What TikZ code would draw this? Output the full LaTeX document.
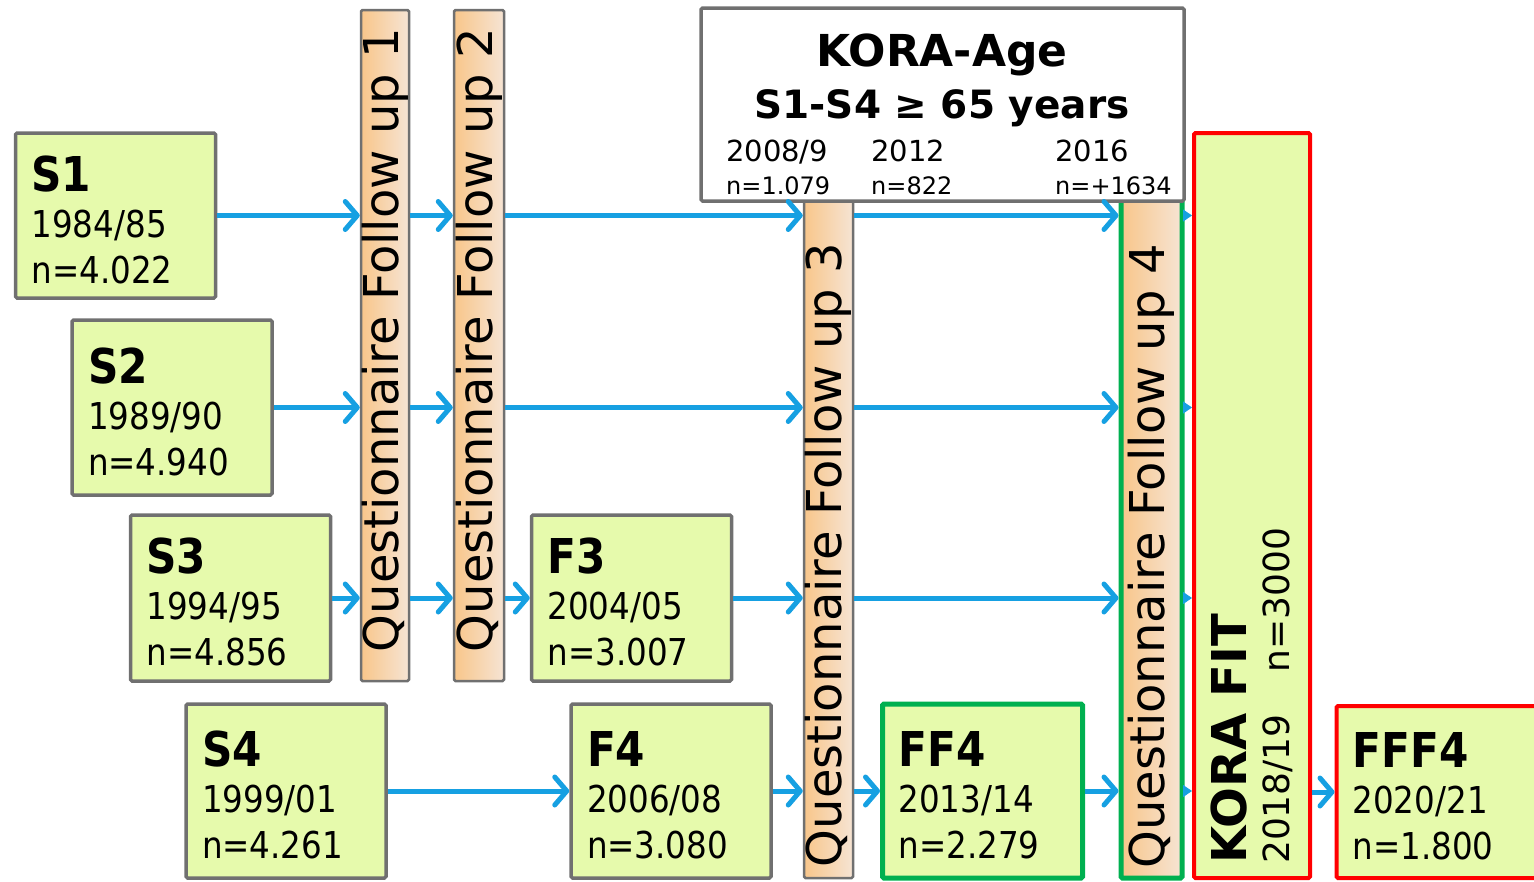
\documentclass[tikz,border=0pt]{standalone}
\usepackage{fontspec}
\setmainfont{DejaVu Sans}
\newfontfamily\boxfont{DejaVu Sans}[FakeStretch=0.88]
\usepackage{tikz}
\usetikzlibrary{
	arrows.meta,
	positioning,
	calc
}
\usepackage{xcolor}

\definecolor{cohortfill}{RGB}{230,250,172}
\definecolor{framegray}{RGB}{112,112,112}
\definecolor{flowblue}{RGB}{22,160,226}
\definecolor{fitred}{RGB}{255,0,0}
\definecolor{ffgreen}{RGB}{0,176,80}
\definecolor{barleft}{RGB}{248,198,138}
\definecolor{barright}{RGB}{246,228,212}

\newcommand{\cohorttitle}[1]{{\bfseries\fontsize{48}{46}\selectfont\rule{0pt}{44pt}#1}}

\tikzset{
	cohort/.style={draw=framegray,line width=3.5pt,fill=cohortfill,rounded corners=1.5pt,
		text width=168pt,inner xsep=16pt,inner ysep=0pt,minimum height=170pt,align=left,
		font=\boxfont\fontsize{37}{46}\selectfont},
	qbar/.style={draw=framegray,line width=2.5pt,left color=barleft,right color=barright,
		rounded corners=1.5pt,inner sep=0pt},
	qtext/.style={rotate=90,anchor=west,inner sep=0pt,font=\fontsize{48}{50}\selectfont},
	flow/.style={->,flowblue,line width=5pt},
	tinyflow/.style={-{Triangle[length=9pt,width=12pt]},flowblue,line width=1pt}
}

\begin{document}
\begin{tikzpicture}[x=1pt,y=-1pt,>={Straight Barb[length=12pt,width=28pt,round]}]
	
	\useasboundingbox (0,0) rectangle (1534,881);
	
	% questionnaire bars
	\node[qbar,minimum width=48pt,minimum height=671pt] (q1) at (385,345.5) {};
	\node[qbar,minimum width=50pt,minimum height=671pt] (q2) at (479,345.5) {};
	\node[qbar,minimum width=49pt,minimum height=679pt] (q3) at (828.5,538.5) {};
	\node[qbar,draw=ffgreen,line width=5pt,minimum width=61pt,minimum height=679pt] (q4) at (1151.5,538.5) {};
	
	\node[qtext] (q1text) at ([yshift=30pt]q1.south) {Questionnaire Follow up 1};
	\node[qtext] (q2text) at ([yshift=30pt]q2.south) {Questionnaire Follow up 2};
	\node[qtext] (q3text) at ([yshift=12pt]q3.south) {Questionnaire Follow up 3};
	\node[qtext] (q4text) at ([yshift=12pt]q4.south) {Questionnaire Follow up 4};
	
	% KORA-Age
	\node[draw=framegray,line width=3.5pt,fill=white,minimum width=483pt,minimum height=193pt,
		rounded corners=1.5pt] (age) at (942.5,104.5) {};
	\node[anchor=base,inner sep=0pt,font=\bfseries\fontsize{44}{50}\selectfont] (agetitle) at (942,66) {KORA-Age};
	\node[anchor=base,inner sep=0pt,font=\bfseries\fontsize{39}{45}\selectfont] (agesub) at (942,118) {S1-S4 ≥ 65 years};
	
	\node[anchor=base west,inner sep=0pt,font=\fontsize{29}{33}\selectfont] (y1) at (726,161) {2008/9};
	\node[anchor=base west,inner sep=0pt,font=\fontsize{29}{33}\selectfont] (y2) at (871,161) {2012};
	\node[anchor=base west,inner sep=0pt,font=\fontsize{29}{33}\selectfont] (y3) at (1055,161) {2016};
	\node[anchor=base west,inner sep=0pt,font=\fontsize{24}{28}\selectfont] (n1) at (726,194) {n=1.079};
	\node[anchor=base west,inner sep=0pt,font=\fontsize{24}{28}\selectfont] (n2) at (871,194) {n=822};
	\node[anchor=base west,inner sep=0pt,font=\fontsize{24}{28}\selectfont] (n3) at (1055,194) {n=+1634};
	
	% cohorts
	\node[cohort,minimum height=165pt] (s1) at (115.5,215.5) {\cohorttitle{S1}\\1984/85\\n=4.022};
	\node[cohort,minimum height=175pt] (s2) at (172,407.5) {\cohorttitle{S2}\\1989/90\\n=4.940};
	\node[cohort,minimum height=166pt] (s3) at (230.5,598) {\cohorttitle{S3}\\1994/95\\n=4.856};
	\node[cohort,minimum height=174pt] (s4) at (286,791) {\cohorttitle{S4}\\1999/01\\n=4.261};
	\node[cohort,minimum height=166pt] (f3) at (631.5,598) {\cohorttitle{F3}\\2004/05\\n=3.007};
	\node[cohort,minimum height=174pt] (f4) at (671,791) {\cohorttitle{F4}\\2006/08\\n=3.080};
	\node[cohort,draw=ffgreen,line width=5pt,minimum height=174pt] (ff4) at (982.5,791)
	{\cohorttitle{FF4}\\2013/14\\n=2.279};
	\node[cohort,draw=fitred,line width=4pt,minimum height=172pt] (fff4) at (1436.5,792)
	{\cohorttitle{FFF4}\\2020/21\\n=1.800};
	
	% KORA FIT
	\node[draw=fitred,line width=4pt,fill=cohortfill,minimum width=116pt,minimum height=745pt,
		rounded corners=1.5pt] (fit) at (1252,505.5) {};
	\node[rotate=90,anchor=west,align=left,inner sep=0pt,font=\fontsize{36}{43}\selectfont] (fittext)
	at ([yshift=16pt]fit.south) {{\bfseries\fontsize{48}{43}\selectfont KORA FIT}\\2018/19\hspace{42pt}n=3000};
	
	% S1
	\draw[flow] (s1.east) -- (s1.east -| q1.west);
	\draw[flow] (s1.east -| q1.east) -- (s1.east -| q2.west);
	\draw[flow] (s1.east -| q2.east) -- (s1.east -| q3.west);
	\draw[flow] (s1.east -| q3.east) -- (s1.east -| q4.west);
	\draw[tinyflow] (s1.east -| q4.east) -- (s1.east -| fit.west);
	
	% S2
	\draw[flow] (s2.east) -- (s2.east -| q1.west);
	\draw[flow] (s2.east -| q1.east) -- (s2.east -| q2.west);
	\draw[flow] (s2.east -| q2.east) -- (s2.east -| q3.west);
	\draw[flow] (s2.east -| q3.east) -- (s2.east -| q4.west);
	\draw[tinyflow] (s2.east -| q4.east) -- (s2.east -| fit.west);
	
	% S3
	\draw[flow] (s3.east) -- (s3.east -| q1.west);
	\draw[flow] (s3.east -| q1.east) -- (s3.east -| q2.west);
	\draw[flow] (s3.east -| q2.east) -- (f3.west);
	\draw[flow] (f3.east) -- (f3.east -| q3.west);
	\draw[flow] (f3.east -| q3.east) -- (f3.east -| q4.west);
	\draw[tinyflow] (f3.east -| q4.east) -- (f3.east -| fit.west);
	
	% S4
	\draw[flow] (s4.east) -- (f4.west);
	\draw[flow] (f4.east) -- (f4.east -| q3.west);
	\draw[flow] (ff4.west -| q3.east) -- (ff4.west);
	\draw[flow] (ff4.east) -- (ff4.east -| q4.west);
	\draw[tinyflow] (ff4.east -| q4.east) -- (ff4.east -| fit.west);
	\draw[flow] (fff4.west -| fit.east) -- (fff4.west);
	
\end{tikzpicture}
\end{document}
